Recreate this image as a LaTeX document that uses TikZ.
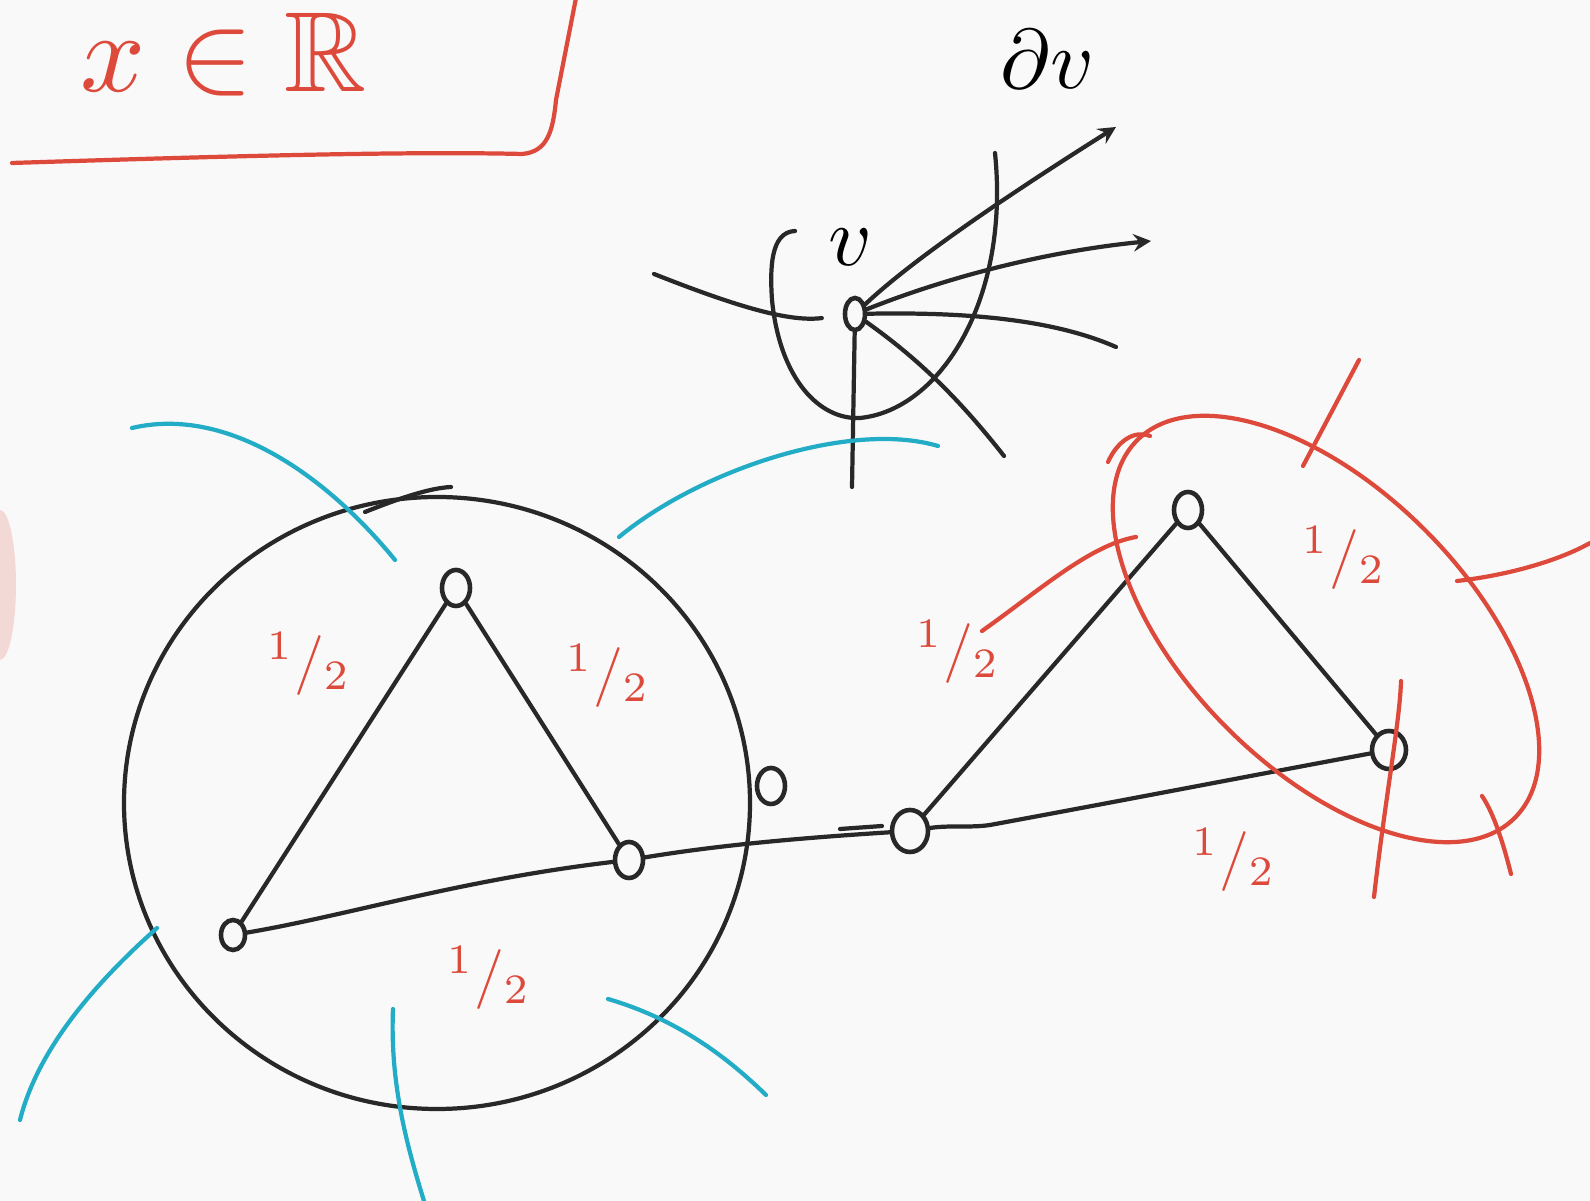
\documentclass[tikz,border=0pt]{standalone}
\usepackage{amssymb}
\usetikzlibrary{shapes.geometric,arrows,calc}

\definecolor{ink}{RGB}{40,40,40}
\definecolor{inkred}{RGB}{221,73,58}
\definecolor{inkcyan}{RGB}{35,172,198}
\definecolor{paper}{RGB}{249,249,249}

\newcommand{\half}{${}^1/{}_2$}

\begin{document}
\begin{tikzpicture}[x=0.01cm, y=-0.01cm,
    vertex/.style={ellipse, draw=ink, line width=1.3pt, minimum width=0.28cm, minimum height=0.36cm, inner sep=0pt},
    pen/.style={draw=ink, line width=1.2pt, line cap=round, line join=round},
    redpen/.style={draw=inkred, line width=1.2pt, line cap=round},
    cyanpen/.style={draw=inkcyan, line width=1.2pt, line cap=round},
    weight/.style={text=inkred, scale=1.7, inner sep=0pt},
    handtext/.style={scale=2.4, inner sep=0pt}
]

% --- Canvas ---
\fill[paper] (0,0) rectangle (1590,1201);
\useasboundingbox (0,0) rectangle (1590,1201);
\fill[inkred, opacity=0.18] (0,585) ellipse [x radius=16, y radius=75];

% --- The box: x in R ---
\draw[redpen] (12,163) .. controls (200,157) and (400,151) .. (522,154)
    .. controls (548,152) and (553,130) .. (556,100) -- (576,-2);
\node[handtext, text=inkred, scale=1.35, anchor=base west] (xinR) at (78,92) {$x\in\mathbb{R}$};

% --- The vertex v and its boundary ---
\node[vertex, minimum width=0.2cm, minimum height=0.32cm] (v) at (855,314) {};
\node[handtext, anchor=base] (vlabel) at (850,266) {$v$};
\node[handtext, anchor=base west] (dvlabel) at (999,89) {$\partial v$};

\coordinate (s1) at (654,274);
\coordinate (s2) at (1116,127);
\coordinate (s3) at (1151,241);
\coordinate (s4) at (1116,347);
\coordinate (s5) at (1004,456);
\coordinate (s6) at (852,487);

\draw[pen, shorten >=6pt] (s1) .. controls (740,308) and (790,322) .. (v);
\draw[pen, ->, >=stealth] (v) .. controls (910,262) and (1000,200) .. (s2);
\draw[pen, ->, >=stealth] (v) .. controls (940,280) and (1040,252) .. (s3);
\draw[pen] (v) .. controls (960,312) and (1050,318) .. (s4);
\draw[pen] (v) .. controls (920,360) and (960,400) .. (s5);
\draw[pen] (v) -- (s6);

% U-shaped curve round v
\draw[pen] (795,231) .. controls (770,232) and (770,270) .. (772,300)
    .. controls (780,380) and (820,420) .. (860,418)
    .. controls (940,410) and (1010,300) .. (995,153);

% --- Left component ---
\node[vertex] (T1) at (456,588) {};
\node[vertex, minimum width=0.24cm, minimum height=0.3cm] (B1) at (233,935) {};
\node[vertex] (R1) at (629,860) {};
\node[vertex] (X1) at (771,786) {};

\draw[pen] (437,803) ellipse [x radius=313, y radius=306];
\draw[pen] (365,512) .. controls (400,498) and (430,488) .. (451,487);

\draw[pen] (T1) -- (B1);
\draw[pen] (T1) -- (R1);
\draw[pen] (B1) .. controls (350,915) and (460,880) .. (R1);

\node[weight] (w1) at (309,664) {\half};
\node[weight] (w2) at (608,676) {\half};
\node[weight] (w3) at (489,978) {\half};

% cyan cut around the left component
\draw[cyanpen] (132,428) .. controls (230,405) and (330,480) .. (395,560);
\draw[cyanpen] (619,537) .. controls (700,470) and (850,420) .. (938,446);
\draw[cyanpen] (20,1120) .. controls (40,1040) and (110,970) .. (157,928);
\draw[cyanpen] (393,1009) .. controls (390,1080) and (405,1140) .. (424,1201);
\draw[cyanpen] (608,999) .. controls (680,1020) and (730,1060) .. (766,1095);

% --- Right component ---
\node[vertex, minimum width=0.36cm, minimum height=0.42cm] (M) at (910,831) {};
\node[vertex] (T2) at (1188,510) {};
\node[vertex, minimum width=0.34cm, minimum height=0.38cm] (R2) at (1389,750) {};

\draw[pen] (R1) .. controls (720,845) and (800,838) .. (M);
\draw[pen] (840,829) -- (882,826);
\draw[pen] (M) -- (T2);
\draw[pen] (T2) -- (R2);
\draw[pen] (M) .. controls (950,825) and (970,828) .. (990,825)
    .. controls (1120,801) and (1260,774) .. (R2);

\node[weight] (w4) at (1344,558) {\half};
\node[weight] (w5) at (958,652) {\half};
\node[weight] (w6) at (1234,860) {\half};

% red cut around the edge T2--R2
\draw[redpen, rotate around={-45:(1326,629)}] (1326,629) ellipse [x radius=267, y radius=140];
\draw[redpen] (1108,462) .. controls (1118,440) and (1135,430) .. (1150,436);
\draw[redpen] (982,631) .. controls (1040,590) and (1090,545) .. (1136,537);
\draw[redpen] (1303,466) -- (1359,360);
\draw[redpen] (1457,581) .. controls (1510,575) and (1560,560) .. (1590,543);
\draw[redpen] (1374,897) .. controls (1385,800) and (1400,720) .. (1401,681);
\draw[redpen] (1482,796) .. controls (1495,815) and (1505,850) .. (1511,874);

\end{tikzpicture}
\end{document}
